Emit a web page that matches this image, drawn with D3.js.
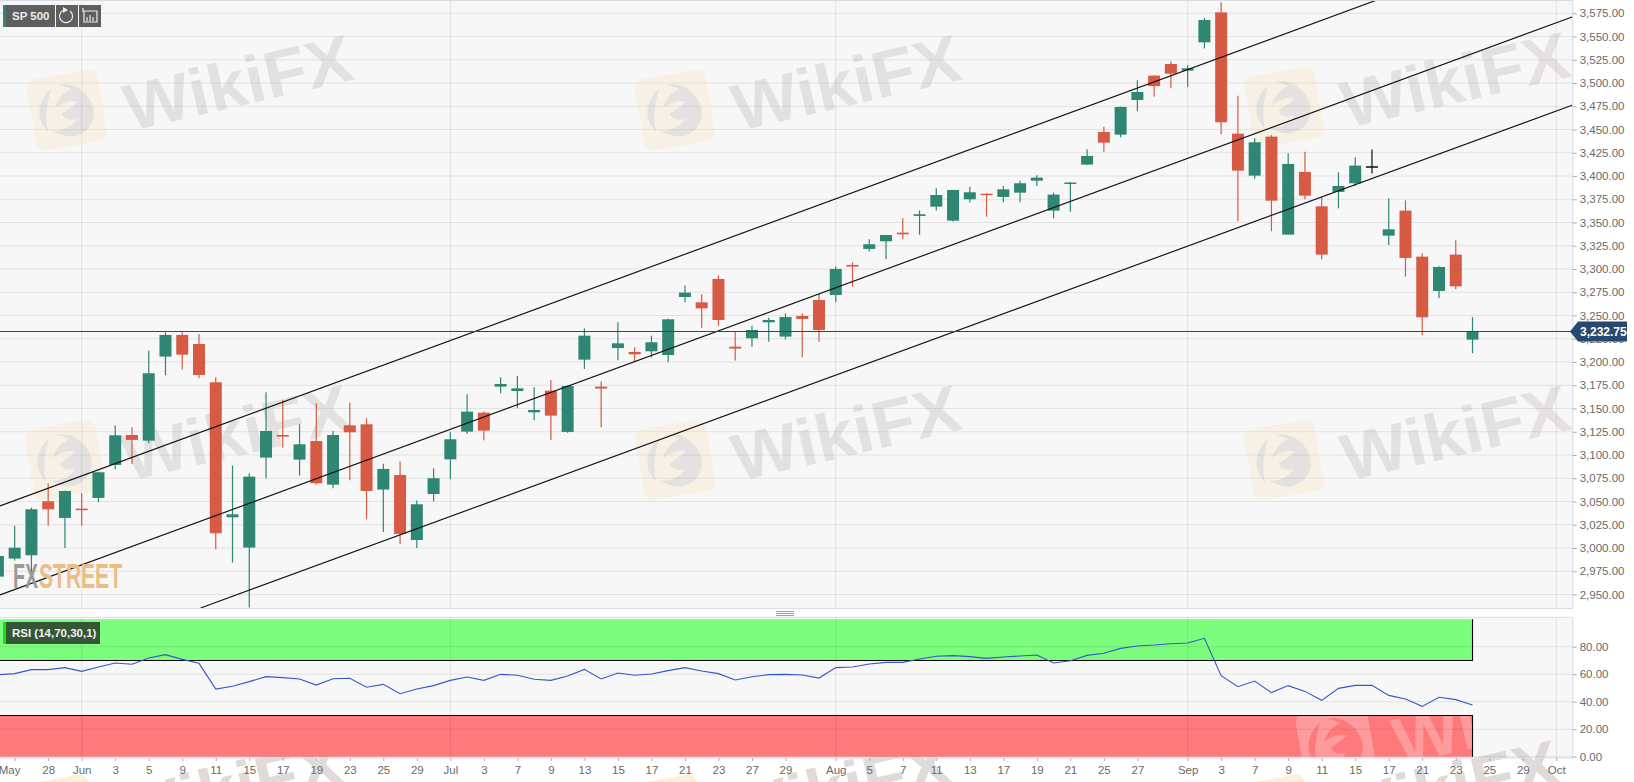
<!DOCTYPE html>
<html>
<head>
<meta charset="utf-8">
<script src="https://cdn.jsdelivr.net/npm/d3@7/dist/d3.min.js"></script>
<style>
html,body{margin:0;padding:0;background:#fff;overflow:hidden}
svg{display:block}
text{font-family:"Liberation Sans",Arial,sans-serif}
</style>
</head>
<body>
<div id="chart"></div>
<script>
// ---------- data ----------
const firstBar = -5;   // bar number of the first candle; bar 0 is 1 June
const opens = [2969.2,2988.6,2992.2,3050.2,3032.3,3042.3,3053.8,3089.3,3121.5,3115.4,3205.8,3229.1,3219.4,3178.2,3033,3000.4,3097.2,3121.5,3095,3115,3068.1,3131.9,3133,3062.8,3078.5,3008.6,3058,3095.3,3125.1,3145.5,3173.5,3168.8,3145.9,3169.2,3124.8,3202.5,3173.5,3215,3210.8,3211.5,3207.5,3269.9,3264.2,3289.3,3216.5,3225.5,3242.7,3227.3,3249.5,3266.7,3272.1,3304.4,3321.6,3329.8,3339.1,3357.1,3367.1,3352,3375,3381,3377.5,3382.1,3395,3362.8,3392,3412.3,3447.4,3444.5,3481.8,3508,3520.5,3513.3,3543.8,3576,3445.6,3400.4,3442.4,3337,3404.4,3367.4,3382.9,3392.2,3410.5,3335.9,3362.8,3313.3,3276.4,3315.5,3224];
const highs = [2993,3024,3043.4,3069.6,3061.5,3058.8,3082,3131.6,3129.8,3212.2,3232,3232,3230,3183.5,3088.6,3080.3,3167.4,3159.2,3133,3155.6,3125.8,3156.3,3139.5,3090.7,3092.9,3051,3085.7,3124.4,3165.2,3147,3183.5,3185,3172.8,3180.7,3175,3236.2,3178.9,3242.7,3215.8,3228.3,3246.6,3282.4,3272.8,3293.2,3233.4,3239.1,3247.7,3252.4,3252.4,3273.1,3302.6,3307.2,3332,3336.6,3354.5,3363.1,3386.8,3385,3388.6,3381.3,3389.3,3395,3400.8,3382.1,3393.5,3428.7,3453.1,3474.5,3502.9,3508,3523.4,3519,3570.3,3586.8,3486.4,3440.6,3444.2,3424.4,3426.2,3377.1,3404,3420.1,3428.4,3376,3373.9,3316.9,3303,3331,3248.1];
const lows = [2967,2986.4,2969,3024,3000,3024,3049,3084.6,3090.4,3112.6,3185.7,3192,3182.5,2998.6,2984.3,2936,3075,3107.9,3077.8,3068,3064.2,3072.8,3030.9,3017.2,3004,3000,3050,3073.8,3122.6,3115.8,3166.3,3150.2,3137.3,3116,3124,3192.5,3129.8,3201.8,3200.4,3205,3199.7,3264.2,3236.9,3238.7,3201.5,3216.5,3221.9,3224.4,3205,3221.9,3264.2,3281.1,3318.7,3310.5,3332,3337,3362.8,3351,3371.4,3356.3,3371.8,3371.8,3389.3,3354.5,3361.7,3412,3426.2,3441.6,3470,3485.4,3494.3,3496.1,3537.3,3444.9,3351.3,3397.2,3340.6,3337,3375,3310.5,3365.3,3389.3,3402.6,3325.9,3291.8,3228.8,3268.5,3278.2,3209.4];
const closes = [2991.4,3000.3,3041.6,3041.6,3061.3,3040.6,3081.4,3121.2,3116.2,3187.9,3229.1,3207.9,3186,3015.8,3036.2,3076.7,3125.8,3119.7,3111.5,3069.6,3121.5,3124.4,3061.3,3085,3015.1,3047,3075,3116.9,3146.6,3126.2,3176.4,3171.7,3148.4,3142.3,3174.2,3228.3,3171.4,3220.1,3208.3,3221.2,3245.9,3274.6,3257.7,3245.2,3214.4,3234.4,3245.2,3248.4,3246.3,3234.4,3300.1,3302.6,3326.6,3336.6,3337.3,3358.9,3379.6,3385,3382.5,3380,3385.7,3392.2,3398.3,3380,3393,3421.6,3435.9,3474.3,3490.4,3496.8,3510.1,3515.8,3567.8,3457.8,3405.8,3436.3,3373.5,3413,3378.9,3315.5,3389.3,3411.2,3410.5,3342.7,3311.9,3248.1,3302.2,3281.4,3232.7];
const rsiValues = [59.6,60.4,63.3,63.3,64.75,62.1,65.2,68.1,67.2,71.8,74.2,70.8,67.9,49.2,51.2,54.6,58.2,57.5,56.5,52.1,56.7,57,50.5,52.6,45.8,49.2,51.7,55.5,58,55.5,59.9,59.2,56.3,55.5,58.7,63.5,56.5,60.9,59.2,60.2,62.6,64.8,62.3,60.4,55.8,58.2,59.7,59.9,59.4,57.2,64.8,65.2,67.4,68.6,68.6,71,73,73.5,72.8,71.5,72.5,73.2,74,68.2,69.8,73.7,75.2,78.8,80.5,81.2,82.2,82.7,86.1,58.9,50.9,55,46.6,51.7,47.5,41,49.7,51.9,51.9,44.6,42,36.6,43.2,41.5,37.6];
const lastPrice = 3232.75;
const tickBars   = [-4,-2,0,2,4,6,8,10,12,14,16,18,20,22,24,26,28,30,32,34,36,38,40,42,45,47,49,51,53,55,57,59,61,63,66,68,70,72,74,76,78,80,82,84,86,88];
const tickLabels = ["May","28","Jun","3","5","9","11","15","17","19","23","25","29","Jul","3","7","9","13","15","17","21","23","27","29","Aug","5","7","11","13","17","19","21","25","27","Sep","3","7","9","11","15","17","21","23","25","29","Oct"];
const monthBars  = [0,22,45,66,88];
const priceTicks = d3.range(2950,3576,25);
const rsiTicks   = [0,20,40,60,80];
const channels = [
  [[-4.875,3045.2],[88.98,3666.7]],
  [[-4.875,2949.5],[88.98,3571.3]],
  [[7.1,2935.5],[88.98,3476.4]]
];
const rsiOverbought = 70, rsiOversold = 30, rsiMax = 100, rsiMin = 0;
const instrument = "SP 500";
const rsiTitle = "RSI (14,70,30,1)";
const watermarkWord = "WikiFX";

// ---------- layout & colours ----------
const W=1634,H=782;
const plotR=1572.7, priceB=608.6, rsiT=617.3, rsiB=758;
const GREEN="#2f8672", RED="#d65a44", BG="#f7f7f8", TXT="#6a6a6a", NAVY="#27496d";

const bars = opens.map((o,i)=>({bar:firstBar+i,o,h:highs[i],l:lows[i],c:closes[i],r:rsiValues[i]}));
const x = d3.scaleLinear().domain([0,88]).range([81.7,1556.3]);
const y = d3.scaleLinear().domain([3575,3200]).range([13.3,362]);
const yR = d3.scaleLinear().domain([80,0]).range([646.7,756.7]);
const lastBar = bars[bars.length-1].bar;

const svg = d3.select("#chart").append("svg").attr("width",W).attr("height",H);
const defs = svg.append("defs");
defs.append("clipPath").attr("id","pClip").append("rect").attr("x",0).attr("y",0).attr("width",plotR).attr("height",priceB);
defs.append("clipPath").attr("id","redClip").append("rect").attr("x",0).attr("y",yR(rsiOversold)).attr("width",x(lastBar)).attr("height",yR(rsiMin)-yR(rsiOversold));

// watermark tile
function watermark(sel,cx,cy,textColor,logoColor,eagleColor,fade){
  const g=sel.append("g").attr("opacity",fade);
  const lg=g.append("g").attr("transform",`translate(${cx},${cy}) rotate(-10)`);
  lg.append("rect").attr("x",-36).attr("y",-36).attr("width",72).attr("height",72).attr("rx",9).attr("fill",logoColor);
  lg.append("path").attr("fill",eagleColor)
    .attr("d","M-5,-26 C10,-28 25,-14 26,2 C27,16 16,27 2,27 C-6,27 -12,22 -18,18 C-8,20 2,18 9,10 C0,12 -4,8 -6,3 L12,-6 C6,-10 -4,-8 -12,-4 C-6,-14 0,-18 8,-20 C2,-24 -2,-26 -5,-26 Z M-12,-24 C-22,-18 -28,-8 -28,2 C-28,9 -25,15 -22,19 C-24,8 -20,-8 -12,-24 Z");
  g.append("text").attr("transform",`translate(${cx+171},${cy-28}) rotate(-13)`)
    .attr("text-anchor","middle").attr("dy","0.36em")
    .attr("textLength",232).attr("lengthAdjust","spacingAndGlyphs")
    .style("font-size","66px").style("font-weight","700").attr("fill",textColor)
    .text(watermarkWord);
}

// pane backgrounds
svg.append("rect").attr("width",plotR).attr("height",priceB).attr("fill",BG);
svg.append("rect").attr("y",rsiT).attr("width",plotR).attr("height",rsiB-rsiT).attr("fill",BG);

// bottom row of watermarks lies under the RSI zones
[[58,815],[666,815],[1274,815]].forEach(p=>watermark(svg,p[0],p[1],"#d6cfcc","#fbeccb","#dcd5d2",0.75));

// zones
const zones=svg.append("g");
zones.append("rect").attr("x",0).attr("width",x(lastBar)).attr("y",yR(rsiMax)).attr("height",yR(rsiOverbought)-yR(rsiMax)).attr("fill","#7dfd7d");
zones.append("rect").attr("x",0).attr("width",x(lastBar)).attr("y",yR(rsiOversold)).attr("height",yR(rsiMin)-yR(rsiOversold)).attr("fill","#fe7a7d");

// light watermark seen only on the red zone
const redWm=svg.append("g").attr("clip-path","url(#redClip)");
watermark(redWm,1336,744,"#ffffff","#ffffff","#fe7a7d",0.25);

// grid
const grid=svg.append("g").attr("stroke","#000").attr("stroke-opacity",0.085).attr("stroke-width",1);
grid.selectAll(".h").data(priceTicks).join("line").attr("x1",0).attr("x2",plotR)
  .attr("y1",d=>y(d)).attr("y2",d=>y(d));
grid.selectAll(".hr").data(rsiTicks).join("line").attr("x1",0).attr("x2",plotR)
  .attr("y1",d=>yR(d)).attr("y2",d=>yR(d));
grid.selectAll(".v").data(monthBars).join("line").attr("x1",d=>x(d)).attr("x2",d=>x(d)).attr("y1",0).attr("y2",priceB);
grid.selectAll(".vr").data(monthBars).join("line").attr("x1",d=>x(d)).attr("x2",d=>x(d)).attr("y1",rsiT).attr("y2",rsiB);

// zone edges
const edge=svg.append("g").attr("stroke","#000").attr("stroke-width",1.1).attr("fill","none");
edge.append("path").attr("d",`M0,${yR(rsiOverbought)}H${x(lastBar)}V${yR(rsiMax)}`);
edge.append("path").attr("d",`M0,${yR(rsiOversold)}H${x(lastBar)}V${yR(rsiMin)}`);

const tile=svg.append("g").attr("clip-path","url(#pClip)");

// candles
const cg=svg.append("g").attr("clip-path","url(#pClip)");
const colorOf=d=>d.c>d.o?GREEN:(d.c<d.o?RED:"#111");
const candle=cg.selectAll("g").data(bars).join("g");
candle.append("line").attr("x1",d=>x(d.bar)).attr("x2",d=>x(d.bar))
  .attr("y1",d=>y(d.h)).attr("y2",d=>y(d.l)).attr("stroke",colorOf).attr("stroke-width",1.2);
candle.append("rect").attr("x",d=>x(d.bar)-6).attr("width",12)
  .attr("y",d=>Math.min(y(d.o),y(d.c)))
  .attr("height",d=>Math.max(1.5,Math.abs(y(d.o)-y(d.c))))
  .attr("fill",colorOf);

// channels
const ch=svg.append("g").attr("clip-path","url(#pClip)");
const chanLine=d3.line().x(d=>x(d[0])).y(d=>y(d[1]));
ch.selectAll("path").data(channels).join("path").attr("d",chanLine)
  .attr("fill","none").attr("stroke","#111").attr("stroke-width",1.15);

// last price line
svg.append("line").attr("x1",0).attr("x2",plotR).attr("y1",y(lastPrice)).attr("y2",y(lastPrice))
  .attr("stroke",NAVY).attr("stroke-width",1.1);

// watermarks above the price candles
[[67,110],[675,110],[1284,107],[65,460],[675,460],[1284,460]].forEach(p=>watermark(tile,p[0],p[1],"#a79a96","#f6e2a8","#a99e9a",0.24));

// RSI line
const rsiLine=d3.line().x(d=>x(d.bar)).y(d=>yR(d.r));
svg.append("path").datum(bars).attr("d",rsiLine).attr("fill","none").attr("stroke","#3657c8").attr("stroke-width",1.1);

// frame
const frame=svg.append("g").attr("fill","none").attr("stroke","#d7dbe6").attr("stroke-width",1);
frame.append("path").attr("d",`M0,0.5H${plotR}V${priceB}H0`);
frame.append("path").attr("d",`M0,${rsiT}H${plotR}V${rsiB}H0`);

// axes
function styleAxis(g){
  g.select(".domain").remove();
  g.selectAll(".tick line").attr("stroke","#a8adb8");
  g.selectAll(".tick text").attr("fill",TXT).style("font-size","11.5px");
}
svg.append("g").attr("transform",`translate(${plotR},0)`)
  .call(d3.axisRight(y).tickValues(priceTicks).tickFormat(d3.format(",.2f")).tickSize(4).tickPadding(3))
  .call(styleAxis);
svg.append("g").attr("transform",`translate(${plotR},0)`)
  .call(d3.axisRight(yR).tickValues(rsiTicks).tickFormat(d3.format(".2f")).tickSize(4).tickPadding(3))
  .call(styleAxis);
const xAxis=svg.append("g").attr("transform",`translate(0,${rsiB})`)
  .call(d3.axisBottom(x).tickValues(tickBars).tickFormat((d,i)=>tickLabels[i]).tickSize(3).tickPadding(5))
  .call(styleAxis);
xAxis.selectAll(".tick text").filter(d=>d===tickBars[0]).attr("dx",-5.6);

// last price tag
const ly=y(lastPrice);
svg.append("path").attr("fill",NAVY).attr("d",`M1570,${ly} L1578,${ly-10} H1627 V${ly+10} H1578 Z`);
svg.append("text").attr("x",1580).attr("y",ly).attr("dy","0.36em").attr("fill","#fff")
  .style("font-size","12px").style("font-weight","700").text(d3.format(",.2f")(lastPrice));

// FXSTREET logo
const fx=svg.append("g").style("font-family",'"Liberation Sans Narrow","Liberation Sans",sans-serif').style("font-weight","700").style("font-size","35px");
fx.append("text").attr("x",13).attr("y",588).attr("textLength",25).attr("lengthAdjust","spacingAndGlyphs").attr("fill","#9a9a9a").text("FX");
fx.append("text").attr("x",39).attr("y",588).attr("textLength",83).attr("lengthAdjust","spacingAndGlyphs").attr("fill","#ecbd85").text("STREET");

// instrument tag
const tag=svg.append("g");
tag.append("rect").attr("x",3).attr("y",5).attr("width",52).attr("height",22).attr("fill","#5e5e5e");
tag.append("rect").attr("x",3).attr("y",5).attr("width",3).attr("height",22).attr("fill",GREEN);
tag.append("rect").attr("x",56).attr("y",5).attr("width",22).attr("height",22).attr("fill","#5e5e5e");
tag.append("rect").attr("x",79).attr("y",5).attr("width",22).attr("height",22).attr("fill","#5e5e5e");
tag.append("text").attr("x",12).attr("y",16).attr("dy","0.36em").attr("fill","#ececec").style("font-size","11.5px").style("font-weight","700").text(instrument);
tag.append("path").attr("fill","none").attr("stroke","#eee").attr("stroke-width",1.2).attr("d","M70,11 A6.5,6.5 0 1 1 64,10");
tag.append("path").attr("fill","#eee").attr("d","M63,7 L68,10 L63,13 Z");
tag.append("path").attr("fill","none").attr("stroke","#eee").attr("stroke-width",1.2).attr("d","M84,11 H97 V22 H84 V11 M87,21 V17 M90,21 V15 M93,21 V17 M83,8 V12");

// RSI tag
const rt=svg.append("g");
rt.append("rect").attr("x",3).attr("y",622).attr("width",97).attr("height",22).attr("fill","#355635");
rt.append("rect").attr("x",3).attr("y",622).attr("width",3).attr("height",22).attr("fill","#17e017");
rt.append("text").attr("x",12).attr("y",633).attr("dy","0.36em").attr("fill","#f2f2f2").style("font-size","11.5px").style("font-weight","700").text(rsiTitle);

// pane drag handle
svg.append("path").attr("stroke","#777").attr("stroke-width",0.7).attr("d","M776,611.5H794M776,613.5H794M776,615.5H794");
</script>
</body>
</html>
